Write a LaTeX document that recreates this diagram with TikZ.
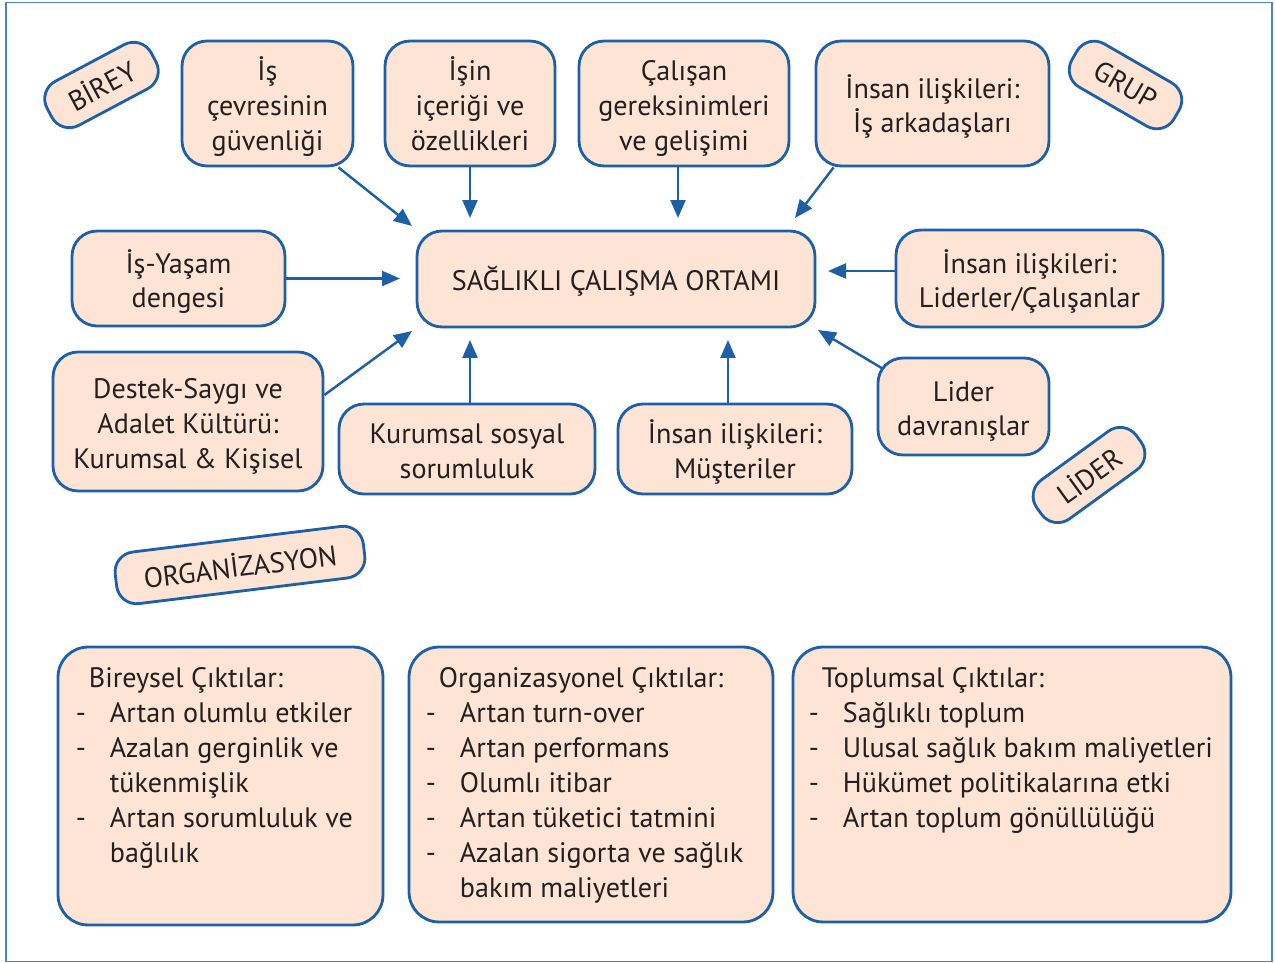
\documentclass[tikz,border=0pt]{standalone}
\usepackage{fontspec}
\setmainfont{PT Sans}
\definecolor{sbblue}{RGB}{30,96,166}
\definecolor{sbpeach}{RGB}{253,228,212}
\definecolor{sbtext}{RGB}{35,31,32}
\definecolor{sbframe}{RGB}{74,134,197}
\usetikzlibrary{arrows.meta,positioning,calc}
\newcommand\odash{\makebox[0.68cm][l]{-}}
\newcommand\oind{\hspace*{0.68cm}}
\newcommand\ohead{\hspace*{0.26cm}}
\newcommand\ctext[1]{\raisebox{-0.1cm}[\height][\depth]{\begin{tabular}{@{}c@{}}#1\end{tabular}}}

\begin{document}
\begin{tikzpicture}[x=0.02cm,y=-0.02cm,
  box/.style={draw=sbblue,fill=sbpeach,line width=1.6pt,rounded corners=0.5cm,
    align=center,text=sbtext,inner sep=0pt,font=\fontsize{16}{19.9}\selectfont},
  pill/.style={box,rounded corners=0.4cm,font=\fontsize{16}{18}\selectfont},
  outbox/.style={box,rounded corners=0.6cm},
  outtext/.style={align=left,text=sbtext,inner sep=0pt,anchor=north west,
    font=\fontsize{16}{19.9}\selectfont},
  arr/.style={-{Triangle[length=0.36cm,width=0.3cm]},line width=1.4pt,draw=sbblue}]
  \useasboundingbox (0,0) rectangle (1275,963);
  \draw[sbframe,line width=0.8pt] (6,2.5) rectangle (1272,961.5);

  %% Top row
  \node[box,minimum width=3.42cm,minimum height=2.5cm]
        (guvenlik) at (267.5,103.5) {\ctext{İş\\çevresinin\\güvenliği}};
  \node[box,minimum width=3.4cm,minimum height=2.5cm]
        (icerik) at (470,103.5) {\ctext{İşin\\içeriği ve\\özellikleri}};
  \node[box,minimum width=4.2cm,minimum height=2.5cm]
        (gelisim) at (684,103.5) {\ctext{Çalışan\\gereksinimleri\\ve gelişimi}};
  \node[box,minimum width=4.66cm,minimum height=2.5cm]
        (arkadas) at (932.5,103.5) {\ctext{İnsan ilişkileri:\\İş arkadaşları}};

  %% Group labels
  \node[pill,minimum width=2.36cm,minimum height=1.0cm,rotate=28]
        (birey) at (101.5,85) {BİREY};
  \node[pill,minimum width=2.36cm,minimum height=1.0cm,rotate=-30]
        (grup) at (1125.5,85) {GRUP};
  \node[pill,minimum width=2.46cm,minimum height=0.96cm,rotate=36]
        (lider) at (1089,475) {LİDER};
  \node[pill,minimum width=5.0cm,minimum height=1.04cm,rotate=7]
        (org) at (240,565) {ORGANİZASYON};

  %% Middle row
  \node[box,minimum width=4.26cm,minimum height=1.9cm]
        (denge) at (178.5,278.5) {\ctext{İş-Yaşam\\dengesi}};
  \node[box,minimum width=7.96cm,minimum height=1.92cm]
        (ortam) at (616,279) {\ctext{SAĞLIKLI ÇALIŞMA ORTAMI}};
  \node[box,minimum width=5.34cm,minimum height=1.94cm]
        (liderler) at (1029.5,278.5) {\ctext{İnsan ilişkileri:\\Liderler/Çalışanlar}};

  %% Lower row
  \node[box,minimum width=5.4cm,minimum height=2.78cm]
        (destek) at (188,421.5) {\ctext{Destek-Saygı ve\\Adalet Kültürü:\\Kurumsal \& Kişisel}};
  \node[box,minimum width=5.12cm,minimum height=1.8cm]
        (sosyal) at (467,449) {\ctext{Kurumsal sosyal\\sorumluluk}};
  \node[box,minimum width=4.68cm,minimum height=1.8cm]
        (musteri) at (735,449) {\ctext{İnsan ilişkileri:\\Müşteriler}};
  \node[box,minimum width=3.42cm,minimum height=1.94cm]
        (davranis) at (963.5,406.5) {\ctext{Lider\\davranışlar}};

  %% Arrow targets round the centre box
  \coordinate (t1) at (412,226);
  \coordinate (t2) at (470,218);
  \coordinate (t3) at (678,218);
  \coordinate (t4) at (795,218);
  \coordinate (t5) at (400,278.5);
  \coordinate (t6) at (828,271);
  \coordinate (t7) at (412,331);
  \coordinate (t8) at (470,340);
  \coordinate (t9) at (728,340);
  \coordinate (t10) at (818,330);

  \draw[arr] ([xshift=-0.32cm]guvenlik.south east) -- (t1);
  \draw[arr] (icerik) -- (t2);
  \draw[arr] (gelisim.south -| t3) -- (t3);
  \draw[arr] ([xshift=0.38cm]arkadas.south west) -- (t4);
  \draw[arr] (denge.east) -- (t5);
  \draw[arr] (liderler.west |- t6) -- (t6);
  \draw[arr] ([yshift=0.53cm]destek.east) -- (t7);
  \draw[arr] (sosyal.north -| t8) -- (t8);
  \draw[arr] (musteri.north -| t9) -- (t9);
  \draw[arr] ([xshift=0.12cm,yshift=-0.24cm]davranis.north west) -- (t10);

  %% Outcome boxes
  \node[outbox,minimum width=6.5cm,minimum height=5.56cm] (bireysel) at (220.5,786) {};
  \node[outbox,minimum width=7.28cm,minimum height=5.5cm] (organizasyonel) at (591,784.5) {};
  \node[outbox,minimum width=8.76cm,minimum height=5.5cm] (toplumsal) at (1012,784.5) {};

  \node[outtext] (bireyselText) at ([xshift=0.38cm,yshift=-0.43cm]bireysel.north west)
        {\ohead Bireysel Çıktılar:\\
         \odash Artan olumlu etkiler\\
         \odash Azalan gerginlik ve\\
         \oind tükenmişlik\\
         \odash Artan sorumluluk ve\\
         \oind bağlılık};
  \node[outtext] (organizasyonelText) at ([xshift=0.36cm,yshift=-0.43cm]organizasyonel.north west)
        {\ohead Organizasyonel Çıktılar:\\
         \odash Artan turn-over\\
         \odash Artan performans\\
         \odash Olumlı itibar\\
         \odash Artan tüketici tatmini\\
         \odash Azalan sigorta ve sağlık\\
         \oind bakım maliyetleri};
  \node[outtext] (toplumsalText) at ([xshift=0.34cm,yshift=-0.43cm]toplumsal.north west)
        {\ohead Toplumsal Çıktılar:\\
         \odash Sağlıklı toplum\\
         \odash Ulusal sağlık bakım maliyetleri\\
         \odash Hükümet politikalarına etki\\
         \odash Artan toplum gönüllülüğü};
\end{tikzpicture}
\end{document}
